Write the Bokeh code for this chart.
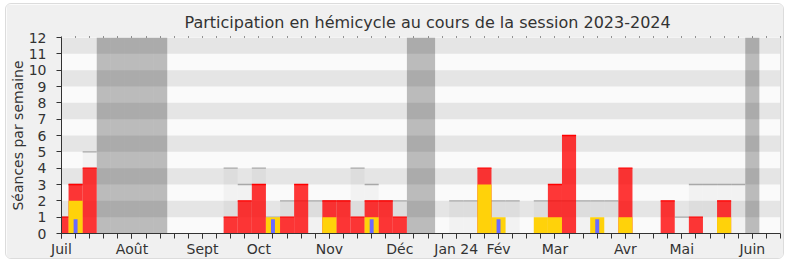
from bokeh.plotting import figure
from bokeh.models import (FixedTicker, LinearAxis, Range1d, Span)
from bokeh.embed import file_html
from bokeh.resources import INLINE

# ---------------- data ----------------
weeks = list(range(52))
# median / total sessions of the week (grey bars with line)
total = [1, 3, 5, 0, 0, 0, 0, 0, 0, 0, 0, 0, 4, 3, 4, 1, 2, 2, 2, 2,
         2, 4, 3, 2, 2, 0, 0, 0, 2, 2, 2, 2, 2, 0, 2, 2, 2, 2, 2, 2,
         0, 0, 0, 0, 1, 3, 3, 3, 3, 0, 0, 0]
# participation (red)
red = [1, 3, 4, 0, 0, 0, 0, 0, 0, 0, 0, 0, 1, 2, 3, 0, 1, 3, 0, 2,
       2, 1, 2, 2, 1, 0, 0, 0, 0, 0, 4, 0, 0, 0, 0, 3, 6, 0, 0, 0,
       4, 0, 0, 2, 0, 1, 0, 2, 0, 0, 0, 0]
# interventions (yellow)
yellow = [0, 2, 0, 0, 0, 0, 0, 0, 0, 0, 0, 0, 0, 0, 0, 1, 0, 0, 0, 1,
          0, 0, 1, 0, 0, 0, 0, 0, 0, 0, 3, 1, 0, 0, 1, 1, 0, 0, 1, 0,
          1, 0, 0, 0, 0, 0, 0, 1, 0, 0, 0, 0]
# questions (blue thin bars)
blue = [0, 0.87, 0, 0, 0, 0, 0, 0, 0, 0, 0, 0, 0, 0, 0, 0.87, 0, 0, 0, 0,
        0, 0, 0.87, 0, 0, 0, 0, 0, 0, 0, 0, 0.87, 0, 0, 0, 0, 0, 0, 0.87, 0,
        0, 0, 0, 0, 0, 0, 0, 0, 0, 0, 0, 0]
vacation_weeks = [3, 4, 5, 6, 7, 25, 26, 49]
month_ticks = [0, 5, 10, 14, 19, 24, 28, 31, 35, 40, 44, 49]
month_labels = ["Juil", "Août", "Sept", "Oct", "Nov", "Déc", "Jan 24",
                "Fév", "Mar", "Avr", "Mai", "Juin"]
y_max = 12

FONT = "DejaVu Sans"
TXT = "#333333"

p = figure(width=779, height=256, output_backend="svg", toolbar_location=None,
           x_range=Range1d(0, 51), y_range=Range1d(0, y_max),
           min_border_left=55, min_border_right=5, min_border_top=33,
           min_border_bottom=27)
p.styles = {"margin-left": "5px", "margin-top": "3px",
            "border": "1px solid #dcdcdc", "border-radius": "6px",
            "overflow": "hidden"}
p.border_fill_color = "#f0f0f0"
p.background_fill_color = "#fafafa"
p.outline_line_color = None
p.xgrid.visible = False
p.ygrid.visible = False

p.title.text = "Participation en hémicycle au cours de la session 2023-2024"
p.title.align = "left"
p.title.text_font = FONT
p.title.text_font_size = "16px"
p.title.text_font_style = "normal"
p.title.text_color = TXT
p.title.offset = 123
p.title.standoff = 9

# stripes
stripe_bottom = list(range(1, y_max, 2))
p.quad(left=0, right=51, bottom=stripe_bottom, top=[b + 1 for b in stripe_bottom],
       fill_color="#e5e5e5", line_color=None)

# vacations
p.vbar(x=vacation_weeks, width=1, bottom=0, top=y_max, fill_color="black",
       fill_alpha=0.25, line_color=None)

# totals
tw = [w for w, t in zip(weeks, total) if t > 0]
tv = [t for t in total if t > 0]
p.vbar(x=tw, width=1, bottom=0, top=tv, fill_color="black", fill_alpha=0.03,
       line_color=None)
p.segment(x0=[w - 0.5 for w in tw], x1=[w + 0.5 for w in tw], y0=tv, y1=tv,
          line_color="#a8a8a8", line_width=1.3)

# red participation
rw = [w for w, r in zip(weeks, red) if r > 0]
rv = [r for r in red if r > 0]
p.vbar(x=rw, width=1, bottom=0, top=rv, fill_color="#ff0000", fill_alpha=0.78,
       line_color=None)
p.segment(x0=[w - 0.5 for w in rw], x1=[w + 0.5 for w in rw], y0=rv, y1=rv,
          line_color="#ff0000", line_width=1.3)

# yellow
yw = [w for w, v in zip(weeks, yellow) if v > 0]
yv = [v for v in yellow if v > 0]
p.vbar(x=yw, width=1, bottom=0, top=yv, fill_color="#ffd20a", line_color=None)

# blue
bw = [w for w, v in zip(weeks, blue) if v > 0]
bv = [v for v in blue if v > 0]
p.vbar(x=bw, width=0.28, bottom=0, top=bv, fill_color="#6a6aff", line_color=None)

# right edge line
p.add_layout(Span(location=51, dimension="height", line_color="#c4c4c4", line_width=1))

# axes
ya = p.yaxis[0]
ya.ticker = FixedTicker(ticks=list(range(0, y_max + 1)))
ya.axis_label = "Séances par semaine"
ya.axis_label_text_font = FONT
ya.axis_label_text_font_size = "14px"
ya.axis_label_text_font_style = "normal"
ya.axis_label_text_color = TXT
ya.axis_label_standoff = 0
ya.major_label_text_font = FONT
ya.major_label_text_font_size = "14px"
ya.major_label_text_color = TXT
ya.major_label_standoff = 10
ya.major_tick_out = 5
ya.major_tick_in = 0
ya.minor_tick_out = 0
ya.minor_tick_in = 0
ya.axis_line_color = TXT
ya.major_tick_line_color = TXT

xa = p.xaxis[0]
xa.ticker = FixedTicker(ticks=month_ticks, minor_ticks=weeks)
xa.major_label_overrides = {t: l for t, l in zip(month_ticks, month_labels)}
xa.major_label_text_font = FONT
xa.major_label_text_font_size = "14px"
xa.major_label_text_color = TXT
xa.major_label_standoff = 2
xa.major_tick_out = 5
xa.major_tick_in = 0
xa.minor_tick_out = 5
xa.minor_tick_in = 0
xa.axis_line_color = TXT
xa.major_tick_line_color = TXT
xa.minor_tick_line_color = TXT

top = LinearAxis(ticker=FixedTicker(ticks=[], minor_ticks=weeks),
                 axis_line_color=None, major_tick_out=0, major_tick_in=0,
                 minor_tick_out=1, minor_tick_in=0, minor_tick_line_color=TXT,
                 major_label_standoff=0)
p.add_layout(top, "above")

open("out.html", "w").write(file_html(p, INLINE))
